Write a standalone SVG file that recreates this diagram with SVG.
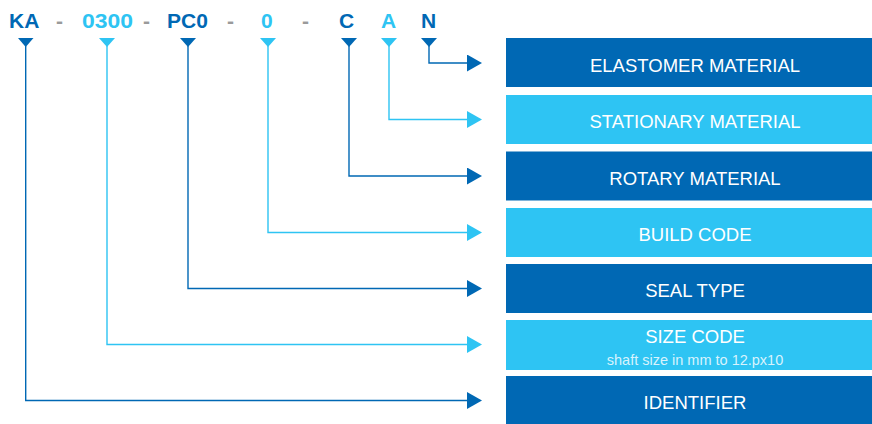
<svg xmlns="http://www.w3.org/2000/svg" width="872" height="424" viewBox="0 0 872 424">
<style>
.code{font-family:"Liberation Sans",Arial,sans-serif;font-weight:bold;font-size:21px}
.d{fill:#0068B4}.l{fill:#2EC4F3}.g{fill:#9A9A9A}
.ln{fill:none;stroke-width:1.4}
.ld{stroke:#0068B4}.ll{stroke:#2EC4F3}
.lbl{font-family:"Liberation Sans",Arial,sans-serif;font-size:18.5px;fill:#FFFFFF;text-anchor:middle}
.sub{font-family:"Liberation Sans",Arial,sans-serif;font-size:14.5px;fill:#D8F3FD;text-anchor:middle}
</style>
<defs>
<marker id="ad" markerWidth="15" markerHeight="17" refX="0" refY="8.5" orient="auto" markerUnits="userSpaceOnUse"><path d="M0,0 L15,8.5 L0,17 Z" fill="#0068B4"/></marker>
<marker id="al" markerWidth="15" markerHeight="17" refX="0" refY="8.5" orient="auto" markerUnits="userSpaceOnUse"><path d="M0,0 L15,8.5 L0,17 Z" fill="#2EC4F3"/></marker>
</defs>
<g id="code">
<text class="code d" x="9" y="28">KA</text>
<text class="code g" x="56" y="28" font-size="23">-</text>
<text class="code l" x="82" y="28" textLength="51" lengthAdjust="spacingAndGlyphs">0300</text>
<text class="code g" x="143" y="28" font-size="23">-</text>
<text class="code d" x="167" y="28">PC0</text>
<text class="code g" x="227" y="28" font-size="23">-</text>
<text class="code l" x="261" y="28">0</text>
<text class="code g" x="302" y="28" font-size="23">-</text>
<text class="code d" x="339" y="28">C</text>
<text class="code l" x="381" y="28">A</text>
<text class="code d" x="421" y="28">N</text>
<path class="d" d="M18,38 L33.5,38 L25.7,47 Z"/>
<path class="l" d="M99,38 L115,38 L107,47 Z"/>
<path class="d" d="M180,38 L196,38 L188,47 Z"/>
<path class="l" d="M260,38 L276,38 L268,47 Z"/>
<path class="d" d="M341,38 L357,38 L349,47 Z"/>
<path class="l" d="M381,38 L397,38 L389,47 Z"/>
<path class="d" d="M421,38 L437,38 L429,47 Z"/>
</g>
<g id="connectors">
<path class="ln ld" d="M429,46 V63 H467" marker-end="url(#ad)"/>
<path class="ln ll" d="M389,46 V119.5 H467" marker-end="url(#al)"/>
<path class="ln ld" d="M349,46 V176 H467" marker-end="url(#ad)"/>
<path class="ln ll" d="M268,46 V232.5 H467" marker-end="url(#al)"/>
<path class="ln ld" d="M188,46 V288.5 H467" marker-end="url(#ad)"/>
<path class="ln ll" d="M107,46 V344.5 H467" marker-end="url(#al)"/>
<path class="ln ld" d="M25.7,46 V400.5 H467" marker-end="url(#ad)"/>
</g>
<g id="elastomer"><rect class="d" x="506" y="38" width="366" height="49"/><text class="lbl" x="695" y="71.5">ELASTOMER MATERIAL</text></g>
<g id="stationary"><rect class="l" x="506" y="95" width="366" height="49"/><text class="lbl" x="695" y="128">STATIONARY MATERIAL</text></g>
<g id="rotary"><rect class="d" x="506" y="151.5" width="366" height="49"/><text class="lbl" x="695" y="184.5">ROTARY MATERIAL</text></g>
<g id="build"><rect class="l" x="506" y="208" width="366" height="49"/><text class="lbl" x="695" y="241">BUILD CODE</text></g>
<g id="seal"><rect class="d" x="506" y="264" width="366" height="49"/><text class="lbl" x="695" y="297">SEAL TYPE</text></g>
<g id="size"><rect class="l" x="506" y="320" width="366" height="50"/><text class="lbl" x="695" y="343">SIZE CODE</text><text class="sub" x="695" y="365">shaft size in mm to 12.px10</text></g>
<g id="identifier"><rect class="d" x="506" y="376" width="366" height="48"/><text class="lbl" x="695" y="409">IDENTIFIER</text></g>
</svg>
